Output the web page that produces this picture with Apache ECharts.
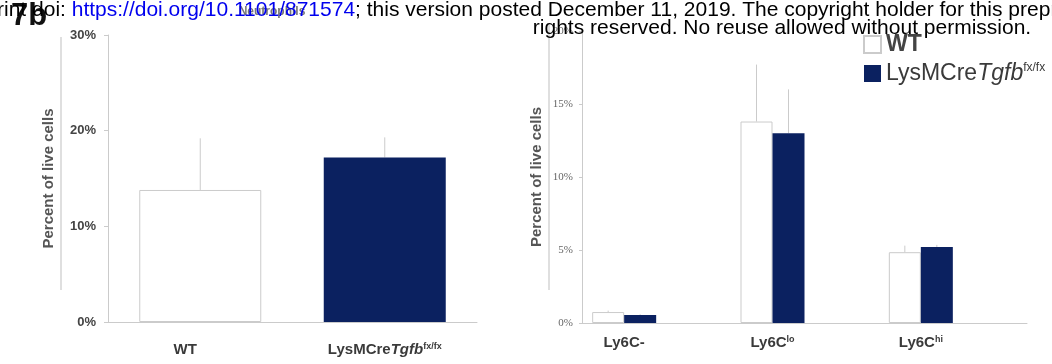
<!DOCTYPE html>
<html>
<head>
<meta charset="utf-8">
<script src="https://cdn.jsdelivr.net/npm/echarts@6/dist/echarts.min.js"></script>
<style>
html, body { margin: 0; padding: 0; background: #fff; }
#chart { width: 1052px; height: 364px; }
</style>
</head>
<body>
<div id="chart"></div>
<script>
// left panel: percent of live cells
var leftCategories = ['WT', 'LysMCre'];
var leftMeans = [13.8, 17.2];
var leftErrors = [5.4, 2.1];
var leftTicks = [0, 10, 20, 30];

// right panel: Ly6C subsets
var rightCategories = ['Ly6C-', 'Ly6Clo', 'Ly6Chi'];
var wtMeans = [0.75, 13.8, 4.85];
var wtErrors = [0.1, 3.9, 0.45];
var koMeans = [0.55, 13.0, 5.2];
var koErrors = [0.05, 3.0, 0.15];
var rightTicks = [0, 5, 10, 15, 20];

var NAVY = '#0b2160';
var LINE = '#cbcbcb';
var BAR_W = 32;

var chart = echarts.init(document.getElementById('chart'));

function errData(means, errs) {
    return means.map(function (m, i) { return [i, m, m + errs[i]]; });
}

// vertical whisker, shifted by the bar slot offset
function whisker(offset) {
    return function (params, api) {
        var p0 = api.coord([api.value(0), api.value(1)]);
        var p1 = api.coord([api.value(0), api.value(2)]);
        return {
            type: 'line',
            shape: { x1: p0[0] + offset, y1: p0[1], x2: p1[0] + offset, y2: p1[1] },
            style: { stroke: LINE, lineWidth: 1 }
        };
    };
}

var catRich = {
    n: { fontFamily: 'Liberation Sans', fontWeight: 'bold', fontSize: 15, color: '#3a3a3a' },
    i: { fontFamily: 'Liberation Sans', fontWeight: 'bold', fontStyle: 'italic', fontSize: 15, color: '#3a3a3a' },
    s: { fontFamily: 'Liberation Sans', fontWeight: 'bold', fontSize: 9, color: '#3a3a3a', verticalAlign: 'top' },
    w: { fontFamily: 'Liberation Sans', fontWeight: 'bold', fontSize: 15, color: '#3a3a3a', padding: [0, 30, 0, 0] }
};

var yName = {
    fontFamily: 'Liberation Sans', fontWeight: 'bold', fontSize: 15, color: '#555'
};

var option = {
    animation: false,
    backgroundColor: '#fff',
    grid: [
        { left: 108, right: 575, top: 35, bottom: 42 },
        { left: 582, right: 25, top: 31, bottom: 41 }
    ],
    legend: {
        data: ['WT', 'LysMCre'],
        orient: 'vertical',
        left: 858,
        top: 28,
        itemWidth: 17,
        itemHeight: 17,
        itemGap: 6,
        icon: 'rect',
        formatter: function (name) {
            return name === 'WT' ? '{b|WT}' : '{n|LysMCre}{i|Tgfb}{s|fx/fx}';
        },
        textStyle: {
            rich: {
                b: { fontFamily: 'Liberation Sans', fontWeight: 'bold', fontSize: 23, color: '#444' },
                n: { fontFamily: 'Liberation Sans', fontSize: 23, color: '#3a3a3a' },
                i: { fontFamily: 'Liberation Sans', fontStyle: 'italic', fontSize: 23, color: '#3a3a3a' },
                s: { fontFamily: 'Liberation Sans', fontSize: 12, color: '#3a3a3a', verticalAlign: 'top' }
            }
        }
    },
    xAxis: [
        {
            type: 'category', gridIndex: 0, data: leftCategories,
            axisLine: { lineStyle: { color: LINE } },
            axisTick: { show: false },
            axisLabel: {
                margin: 20,
                interval: 0,
                formatter: function (v) {
                    return v === 'WT' ? '{w|WT}' : '{n|LysMCre}{i|Tgfb}{s|fx/fx}';
                },
                rich: catRich
            }
        },
        {
            type: 'category', gridIndex: 1, data: rightCategories,
            axisLine: { lineStyle: { color: LINE } },
            axisTick: { show: false },
            axisLabel: {
                margin: 12,
                interval: 0,
                padding: [0, 64, 0, 0],
                formatter: function (v) {
                    if (v === 'Ly6Clo') return '{n|Ly6C}{s|lo}';
                    if (v === 'Ly6Chi') return '{n|Ly6C}{s|hi}';
                    return '{n|' + v + '}';
                },
                rich: catRich
            }
        }
    ],
    yAxis: [
        {
            type: 'value', gridIndex: 0,
            min: leftTicks[0], max: leftTicks[leftTicks.length - 1],
            interval: leftTicks[1] - leftTicks[0],
            name: 'Percent of live cells', nameLocation: 'middle', nameGap: 52,
            nameTextStyle: yName,
            axisLine: { show: true, lineStyle: { color: LINE } },
            axisTick: { show: true, length: 4, lineStyle: { color: LINE } },
            splitLine: { show: false },
            axisLabel: {
                formatter: '{value}%', margin: 12,
                fontFamily: 'Liberation Sans', fontWeight: 'bold', fontSize: 13, color: '#444'
            }
        },
        {
            type: 'value', gridIndex: 1,
            min: rightTicks[0], max: rightTicks[rightTicks.length - 1],
            interval: rightTicks[1] - rightTicks[0],
            name: 'Percent of live cells', nameLocation: 'middle', nameGap: 38,
            nameTextStyle: yName,
            axisLine: { show: true, lineStyle: { color: LINE } },
            axisTick: { show: true, length: 3, lineStyle: { color: LINE } },
            splitLine: { show: false },
            axisLabel: {
                formatter: '{value}%', margin: 9,
                fontFamily: 'Liberation Serif', fontSize: 11, color: '#666'
            }
        }
    ],
    series: [
        {
            name: 'Neutrophils', type: 'bar', xAxisIndex: 0, yAxisIndex: 0,
            barWidth: 122,
            data: leftMeans.map(function (v, i) {
                return {
                    value: v,
                    itemStyle: i === 0
                        ? { color: '#fff', borderColor: LINE, borderWidth: 1 }
                        : { color: NAVY }
                };
            })
        },
        {
            type: 'custom', xAxisIndex: 0, yAxisIndex: 0,
            renderItem: whisker(0),
            encode: { x: 0, y: [1, 2] },
            data: errData(leftMeans, leftErrors), z: 1
        },
        {
            name: 'WT', type: 'bar', xAxisIndex: 1, yAxisIndex: 1,
            barWidth: BAR_W, barGap: '0%',
            itemStyle: { color: '#fff', borderColor: LINE, borderWidth: 1 },
            data: wtMeans
        },
        {
            name: 'LysMCre', type: 'bar', xAxisIndex: 1, yAxisIndex: 1,
            barWidth: BAR_W, barGap: '0%',
            itemStyle: { color: NAVY },
            data: koMeans
        },
        // two empty slots, as in the source chart, keep the pairs left of centre
        { name: 'slot3', type: 'bar', xAxisIndex: 1, yAxisIndex: 1, barWidth: BAR_W, barGap: '0%', data: [null, null, null] },
        { name: 'slot4', type: 'bar', xAxisIndex: 1, yAxisIndex: 1, barWidth: BAR_W, barGap: '0%', data: [null, null, null] },
        {
            type: 'custom', xAxisIndex: 1, yAxisIndex: 1,
            renderItem: whisker(-1.5 * BAR_W),
            encode: { x: 0, y: [1, 2] },
            data: errData(wtMeans, wtErrors), z: 1
        },
        {
            type: 'custom', xAxisIndex: 1, yAxisIndex: 1,
            renderItem: whisker(-0.5 * BAR_W),
            encode: { x: 0, y: [1, 2] },
            data: errData(koMeans, koErrors), z: 1
        }
    ],
    graphic: [
        { type: 'line', shape: { x1: 61, y1: 37, x2: 61, y2: 290 }, style: { stroke: '#d4d4d4', lineWidth: 1.5 } },
        { type: 'line', shape: { x1: 549, y1: 25, x2: 549, y2: 290 }, style: { stroke: '#d4d4d4', lineWidth: 1.5 } },
        {
            type: 'text', x: 272, y: 6, z: 5,
            style: { text: 'Neutrophils', align: 'center', font: 'bold 12px "Liberation Sans"', fill: '#777' }
        },
        {
            type: 'text', x: 11, y: 1, z: 50,
            style: { text: '7b', font: 'bold 31px "Liberation Sans"', fill: '#111' }
        },
        {
            type: 'text', x: -45, y: 0, z: 100,
            style: {
                text: '{t|preprint doi: }{u|https://doi.org/10.1101/871574}{t|; this version posted December 11, 2019. The copyright holder for this preprint}',
                rich: {
                    t: { font: '21px "Liberation Sans"', fill: '#000' },
                    u: { font: '21px "Liberation Sans"', fill: '#0000ee' }
                }
            }
        },
        {
            type: 'text', x: 782, y: 18, z: 100,
            style: { text: 'rights reserved. No reuse allowed without permission.', align: 'center', font: '21px "Liberation Sans"', fill: '#000' }
        }
    ]
};

chart.setOption(option);
</script>
</body>
</html>
